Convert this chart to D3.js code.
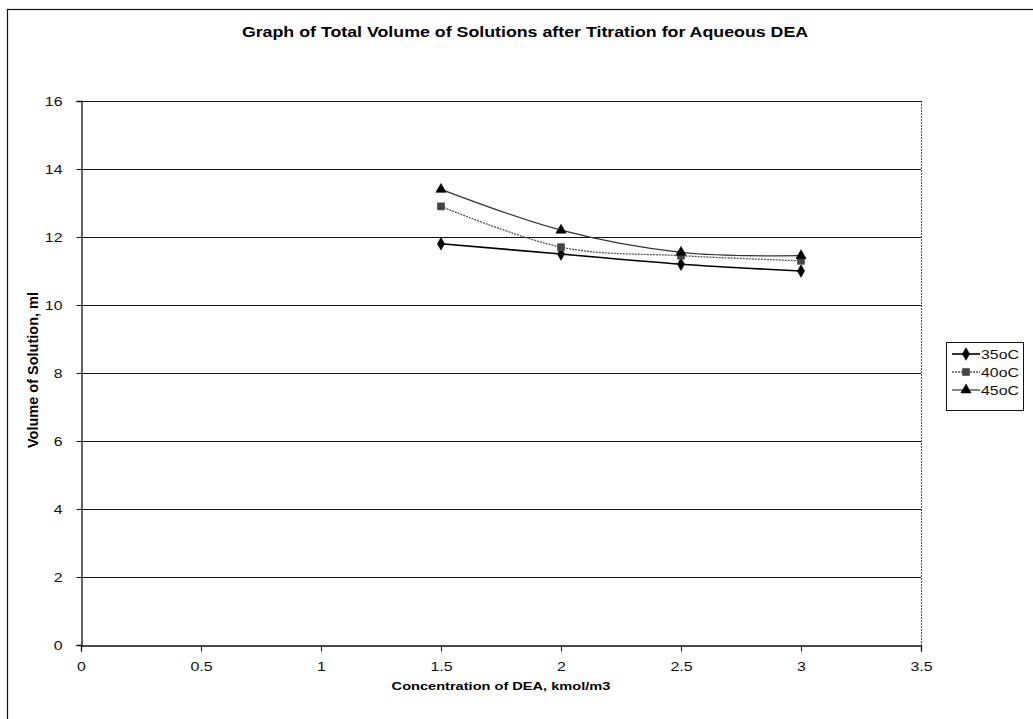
<!DOCTYPE html>
<html>
<head>
<meta charset="utf-8">
<script src="https://cdn.jsdelivr.net/npm/d3@7"></script>
<style>
  html, body { margin: 0; padding: 0; background: #fff; }
  svg { display: block; font-family: "Liberation Sans", Arial, sans-serif; }
</style>
</head>
<body>
<svg id="chart" width="1033" height="719"></svg>
<script>
// Concentration of DEA (kmol/m3) at which titrations were run
const concentrations = [1.5, 2, 2.5, 3];

// Total volume of solution (ml) per temperature
const vol35 = [11.8, 11.5, 11.2, 11.0];
const vol40 = [12.9, 11.7, 11.45, 11.3];
const vol45 = [13.4, 12.2, 11.55, 11.45];

const seriesNames = ["35oC", "40oC", "45oC"];
const xTicks = [0, 0.5, 1, 1.5, 2, 2.5, 3, 3.5];
const yTicks = [0, 2, 4, 6, 8, 10, 12, 14, 16];

const titleText = "Graph of Total Volume of Solutions after Titration for Aqueous DEA";
const xTitle = "Concentration of DEA, kmol/m3";
const yTitle = "Volume of Solution, ml";

const svg = d3.select("#chart");
const chartArea = { left: 7, right: 1043 };
const plot = { left: 81, right: 921, top: 101, bottom: 645 };
const stretch = 1.27; // the chart's lettering is set wide

const x = d3.scaleLinear().domain([0, 3.5]).range([plot.left, plot.right]);
const y = d3.scaleLinear().domain([0, 16]).range([plot.bottom, plot.top]);

// Outer chart frame (right and bottom edges run off the page)
svg.append("rect")
  .attr("x", chartArea.left + 0.5).attr("y", 9.5)
  .attr("width", chartArea.right - chartArea.left).attr("height", 800)
  .attr("fill", "none").attr("stroke", "#111").attr("stroke-width", 1.2);

// Title, centred on the chart area
svg.append("text")
  .attr("transform", `translate(${(chartArea.left + chartArea.right) / 2},37) scale(${stretch},1)`)
  .attr("text-anchor", "middle")
  .attr("font-size", 14).attr("font-weight", "bold")
  .text(titleText);

// Horizontal gridlines
svg.append("g").selectAll("line")
  .data(yTicks.filter(d => d > 0))
  .join("line")
  .attr("x1", plot.left).attr("x2", plot.right)
  .attr("y1", d => y(d) + 0.5).attr("y2", d => y(d) + 0.5)
  .attr("stroke", "#111").attr("stroke-width", 1);

// Right edge of the plot area
svg.append("line")
  .attr("x1", plot.right + 0.5).attr("x2", plot.right + 0.5)
  .attr("y1", plot.top).attr("y2", plot.bottom)
  .attr("stroke", "#555").attr("stroke-width", 1)
  .attr("stroke-dasharray", "2,1");

// Axes
const xAxis = d3.axisBottom(x).tickValues(xTicks).tickSize(6).tickPadding(11)
  .tickFormat(d => String(d));
const yAxis = d3.axisLeft(y).tickValues(yTicks).tickSize(5).tickPadding(15)
  .tickFormat(d => String(d));

const gx = svg.append("g")
  .attr("transform", `translate(0,${plot.bottom + 0.5})`)
  .call(xAxis);
const gy = svg.append("g")
  .attr("transform", `translate(${plot.left + 0.5},0)`)
  .call(yAxis);

[gx, gy].forEach(g => {
  g.select(".domain").attr("stroke", "#111").attr("stroke-width", 1.3);
  g.selectAll(".tick line").attr("stroke", "#111");
  g.selectAll(".tick text")
    .attr("font-family", "Liberation Sans, Arial, sans-serif")
    .attr("font-size", 12.5).attr("fill", "#111");
});
gx.selectAll(".tick text").attr("transform", `scale(${stretch},1)`);
gy.selectAll(".tick text")
  .attr("x", -19 / stretch)
  .attr("transform", `scale(${stretch},1)`);

// Axis titles
svg.append("text")
  .attr("transform", `translate(${(plot.left + plot.right) / 2},690) scale(${stretch},1)`)
  .attr("text-anchor", "middle")
  .attr("font-size", 11.5).attr("font-weight", "bold")
  .text(xTitle);

svg.append("text")
  .attr("transform", `translate(38,370) rotate(-90)`)
  .attr("text-anchor", "middle")
  .attr("font-size", 14.5).attr("font-weight", "bold")
  .text(yTitle);

// Series styling
const styles = [
  { values: vol35, stroke: "#000", width: 1.6, dash: null, marker: d3.symbolDiamond, size: 45, fill: "#000" },
  { values: vol40, stroke: "#555", width: 1.3, dash: "2,1", marker: d3.symbolSquare, size: 50, fill: "#444" },
  { values: vol45, stroke: "#333", width: 1.2, dash: null, marker: d3.symbolTriangle, size: 45, fill: "#000" }
];

const line = d3.line()
  .x(d => x(d[0])).y(d => y(d[1]))
  .curve(d3.curveCardinal.tension(0));

styles.forEach((s, i) => {
  const pts = concentrations.map((c, j) => [c, s.values[j]]);
  const g = svg.append("g").attr("class", "series-" + seriesNames[i]);
  g.append("path")
    .attr("d", line(pts))
    .attr("fill", "none")
    .attr("stroke", s.stroke).attr("stroke-width", s.width)
    .attr("stroke-dasharray", s.dash);
  g.selectAll("path.mk")
    .data(pts)
    .join("path")
    .attr("class", "mk")
    .attr("transform", d => `translate(${x(d[0])},${y(d[1])})`)
    .attr("d", d3.symbol().type(s.marker).size(s.size))
    .attr("fill", s.fill).attr("stroke", s.fill).attr("stroke-width", 0.6);
});

// Legend
const lg = svg.append("g").attr("transform", "translate(946,342)");
lg.append("rect")
  .attr("x", 0.5).attr("y", 0.5).attr("width", 77).attr("height", 68)
  .attr("fill", "#fff").attr("stroke", "#111").attr("stroke-width", 1);
styles.forEach((s, i) => {
  const cy = 12 + i * 18;
  lg.append("line")
    .attr("x1", 6).attr("x2", 34).attr("y1", cy).attr("y2", cy)
    .attr("stroke", s.stroke).attr("stroke-width", s.width)
    .attr("stroke-dasharray", s.dash);
  lg.append("path")
    .attr("transform", `translate(20,${cy})`)
    .attr("d", d3.symbol().type(s.marker).size(s.size))
    .attr("fill", s.fill).attr("stroke", s.fill).attr("stroke-width", 0.6);
  lg.append("text")
    .attr("transform", `translate(35,${cy + 4.5}) scale(${stretch},1)`)
    .attr("font-size", 12.5).attr("fill", "#111")
    .text(seriesNames[i]);
});
</script>
</body>
</html>
